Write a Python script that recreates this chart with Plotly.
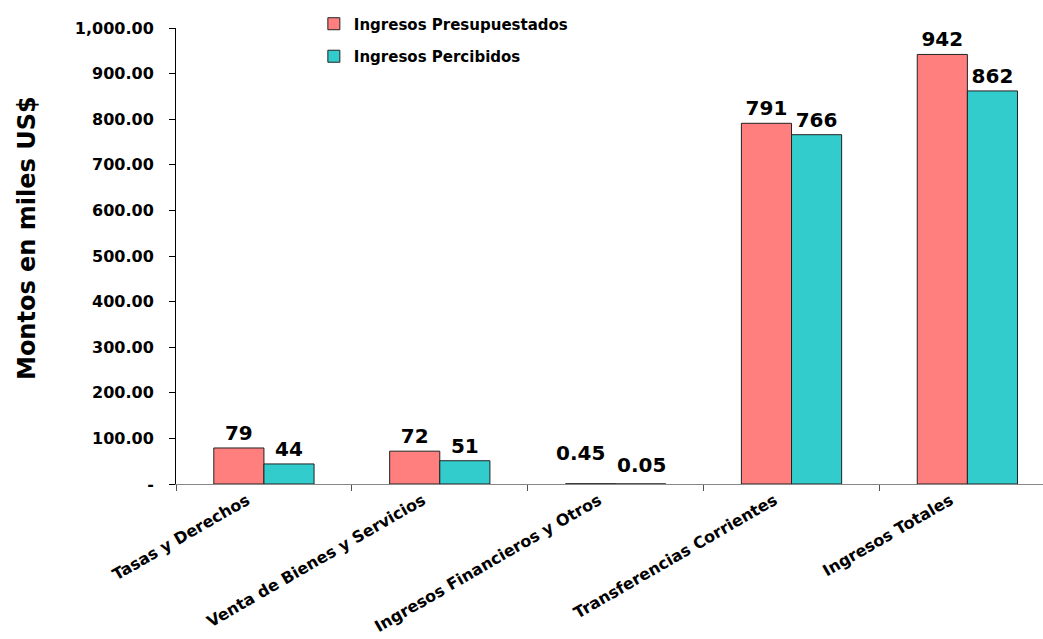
import plotly.graph_objects as go

categorias = [
    "Tasas y Derechos",
    "Venta de Bienes y Servicios",
    "Ingresos Financieros y Otros",
    "Transferencias Corrientes",
    "Ingresos Totales",
]
presupuestados = [79, 72, 0.45, 791, 942]
percibidos = [44, 51, 0.05, 766, 862]
y_ticks = [0, 100, 200, 300, 400, 500, 600, 700, 800, 900, 1000]


def etiqueta(v):
    return f"{v:.2f}" if v < 1 else f"{v:.0f}"


def tick_txt(v):
    return "-" if v == 0 else f"{v:,.2f}"


FONT = "DejaVu Sans"
W, H = 1043, 639
L, R, T, B = 176, 0, 28, 155
LABEL_FONT = dict(family=FONT, size=20, color="black", weight="bold")

fig = go.Figure()
notes = []
series = [
    ("Ingresos Presupuestados", presupuestados, "#FF7F7F", "a", -35, 17),
    ("Ingresos Percibidos", percibidos, "#33CCCC", "b", 26, 5),
]
for name, vals, color, grp, dx, dy in series:
    # tiny values get their labels as annotations so they don't collide
    texts = [etiqueta(v) if v >= 1 else "" for v in vals]
    fig.add_trace(go.Bar(
        x=categorias, y=vals, name=name, legendgroup=grp,
        marker=dict(color=color, line=dict(color="#222222", width=1)),
        text=texts, textposition="outside",
        textfont=LABEL_FONT, cliponaxis=False,
    ))
    for c, v in zip(categorias, vals):
        if v < 1:
            notes.append(dict(
                x=c, y=v, xref="x", yref="y", text=etiqueta(v),
                xanchor="center", yanchor="bottom", xshift=dx, yshift=dy,
                showarrow=False, font=LABEL_FONT,
            ))

notes.append(dict(
    text="Montos en miles US$", textangle=-90,
    xref="paper", yref="paper",
    x=(27 - L) / (W - L - R), y=(484 - 238) / 456,
    xanchor="center", yanchor="middle", showarrow=False,
    font=dict(family=FONT, size=24, color="black", weight="bold"),
))

fig.update_layout(
    width=W, height=H,
    margin=dict(l=L, r=R, t=T, b=B, autoexpand=False),
    paper_bgcolor="white", plot_bgcolor="white",
    barmode="group", bargap=0.43, bargroupgap=0,
    font=dict(family=FONT, color="black"),
    showlegend=True,
    legend=dict(
        x=0.159, y=1.045, xanchor="left", yanchor="top",
        font=dict(family=FONT, size=15, color="black", weight="bold"),
        bgcolor="rgba(0,0,0,0)", tracegroupgap=10,
        traceorder="grouped",
    ),
    xaxis=dict(
        range=[-0.5, 4.43], showgrid=False, zeroline=False, automargin=False,
        showline=True, linecolor="#888888", linewidth=1,
        ticks="outside", ticklen=6, tickcolor="#555555", tickson="boundaries",
        tickangle=-30, ticklabelshift=-17,
        tickfont=dict(family=FONT, size=16, color="black", weight="bold"),
    ),
    yaxis=dict(
        range=[0, 1000], showgrid=False, zeroline=False, automargin=False,
        showline=True, linecolor="black", linewidth=1,
        ticks="outside", ticklen=6, tickcolor="black",
        tickvals=y_ticks, ticktext=[tick_txt(v) for v in y_ticks],
        tickfont=dict(family=FONT, size=16, color="black", weight="bold"),
        ticklabelstandoff=12,
    ),
    annotations=notes,
)

fig.write_html("out.html")
